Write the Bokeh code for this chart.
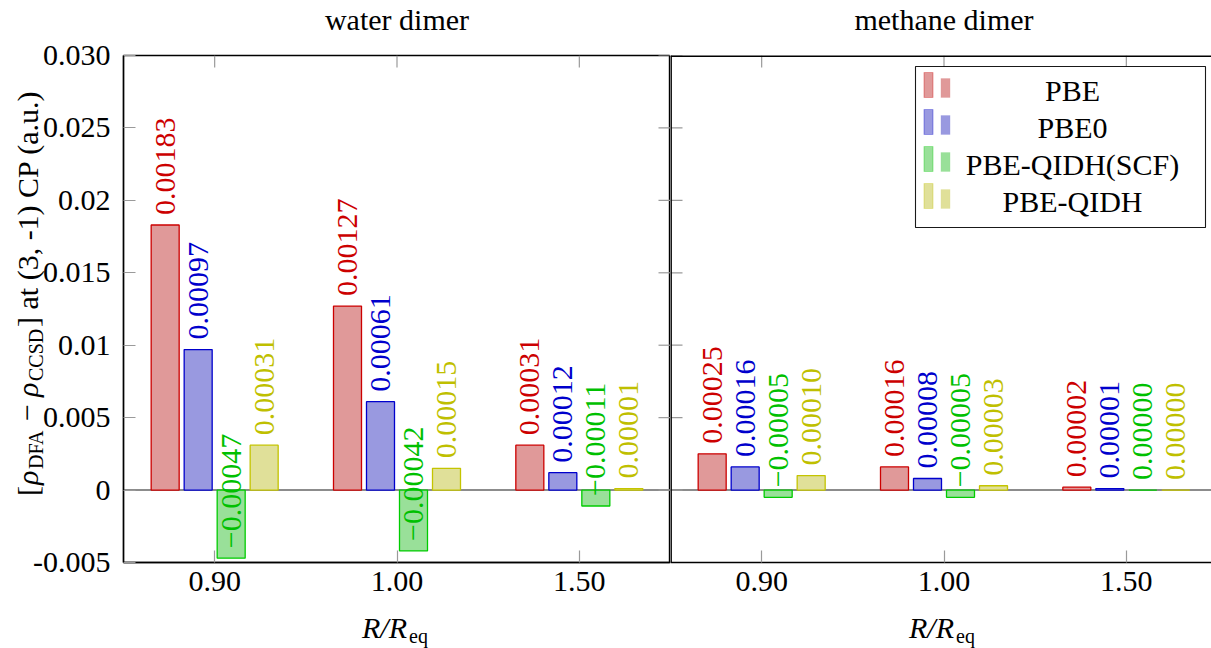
import math
from bokeh.plotting import figure
from bokeh.models import (Range1d, LinearAxis, FixedTicker, Span, Label,
                          BoxAnnotation, ColumnDataSource)
from bokeh.layouts import row, column
from bokeh.core.properties import value
from bokeh.embed import file_html
from bokeh.resources import INLINE

# ---------------- data ----------------
categories = ["0.90", "1.00", "1.50"]
methods = ["PBE", "PBE0", "PBE-QIDH(SCF)", "PBE-QIDH"]
panel_titles = ["water dimer", "methane dimer"]

water_pbe = [0.0183, 0.0127, 0.0031]
water_pbe0 = [0.0097, 0.0061, 0.0012]
water_scf = [-0.0047, -0.0042, -0.0011]
water_qidh = [0.0031, 0.0015, 0.0001]

methane_pbe = [0.0025, 0.0016, 0.0002]
methane_pbe0 = [0.0016, 0.0008, 0.0001]
methane_scf = [-0.0005, -0.0005, 0.0]
methane_qidh = [0.0010, 0.0003, 0.0]

water_pbe_labels = ["0.00183", "0.00127", "0.00031"]
water_pbe0_labels = ["0.00097", "0.00061", "0.00012"]
water_scf_labels = ["\u22120.00047", "\u22120.00042", "\u22120.00011"]
water_qidh_labels = ["0.00031", "0.00015", "0.00001"]

methane_pbe_labels = ["0.00025", "0.00016", "0.00002"]
methane_pbe0_labels = ["0.00016", "0.00008", "0.00001"]
methane_scf_labels = ["\u22120.00005", "\u22120.00005", "0.00000"]
methane_qidh_labels = ["0.00010", "0.00003", "0.00000"]

y_ticks = [-0.005, 0.0, 0.005, 0.01, 0.015, 0.02, 0.025, 0.03]
y_tick_labels = ["-0.005", "0", "0.005", "0.01", "0.015", "0.02", "0.025", "0.030"]

# ---------------- styles / layout (page pixels) ----------------
FONT = "Liberation Serif"
FS_PX, SUB_PX = 30, 20
FS, SUB_FS = f"{FS_PX}px", f"{SUB_PX}px"
MID = 0.3375            # middle of the font box above the baseline, in em
PAGE_W, PAGE_H = 1211, 648
TOP_STRIP = 36          # strip holding the panel titles
BOTTOM_STRIP = 40       # strip holding the x-axis titles
LEFT_STRIP = 46         # strip holding the y-axis title (overlapped by the left panel)
FRAME_LEFT, FRAME_TOP, FRAME_BOTTOM = 123, 55, 562
DIVIDER = 670
MAIN_H = PAGE_H - TOP_STRIP - BOTTOM_STRIP
Y0, Y1 = -0.005, 0.030
PPX = (DIVIDER - FRAME_LEFT) / 3.0
PPY = (FRAME_BOTTOM - FRAME_TOP) / (Y1 - Y0)
TICK_LEN = 12
TICK_COLOR = "#9a9a9a"
FRAME_W = 1.4

fills = ["#e09999", "#9999e0", "#99e099", "#e0e099"]
lines = ["#cc0000", "#0000cc", "#00cc00", "#c4c400"]
text_colors = ["#cc0000", "#0000cc", "#00c000", "#bfbf00"]
bar_offsets_px = [-49.5, -16.5, 16.5, 49.5]
BAR_W_PX = 28
LABEL_GAP_PX = 10

centers = [i + 0.5 for i in range(len(categories))]


def canvas_label(fig, x, y, text, px=FS_PX, style="normal", align="left", vertical=False):
    """Place text whose alphabetic baseline passes through (x, y) in canvas pixels."""
    if vertical:
        x, angle = x - MID * px, math.pi / 2
    else:
        y, angle = y - MID * px, 0.0
    fig.add_layout(Label(x=x, y=y, x_units="canvas", y_units="canvas", text=text,
                         angle=angle, text_font=FONT, text_font_size=f"{px}px",
                         text_font_style=style, text_align=align,
                         text_baseline="middle", text_color="black"))


def strip(width, height, **kw):
    s = figure(width=width, height=height, output_backend="svg", toolbar_location=None,
               tools="", x_range=Range1d(0, width), y_range=Range1d(height, 0),
               x_axis_location=None, y_axis_location=None,
               min_border=0, min_border_left=0, min_border_right=0,
               min_border_top=0, min_border_bottom=0,
               background_fill_color="white", border_fill_color="white", **kw)
    s.outline_line_color = None
    s.grid.visible = False
    return s


def style_axis(ax):
    ax.axis_line_color = "black"
    ax.axis_line_width = FRAME_W
    ax.major_tick_in = TICK_LEN
    ax.major_tick_out = 0
    ax.major_tick_line_color = TICK_COLOR
    ax.major_tick_line_width = 1.2
    ax.minor_tick_line_color = None
    ax.minor_tick_in = 0
    ax.minor_tick_out = 0
    ax.major_label_text_font = FONT
    ax.major_label_text_font_size = FS
    ax.major_label_text_color = "black"


def make_panel(width, border_left, x_end, is_left, series, labels):
    p = figure(width=width, height=MAIN_H, output_backend="svg", toolbar_location=None, tools="",
               x_range=Range1d(0, x_end), y_range=Range1d(Y0, Y1),
               x_axis_location=None, y_axis_location=None,
               min_border_left=border_left, min_border_right=0,
               min_border_top=FRAME_TOP - TOP_STRIP,
               min_border_bottom=TOP_STRIP + MAIN_H - FRAME_BOTTOM,
               background_fill_color="white", border_fill_color="white",
               border_fill_alpha=0.0)
    p.grid.visible = False

    bottom = LinearAxis(ticker=FixedTicker(ticks=centers),
                        major_label_overrides={c: lab for c, lab in zip(centers, categories)})
    style_axis(bottom)
    bottom.major_label_standoff = 9
    p.add_layout(bottom, "below")

    # ticks on the inner side of the top edge
    p.segment(x0=centers, x1=centers, y0=[Y1] * len(centers),
              y1=[Y1 - TICK_LEN / PPY] * len(centers), line_color=TICK_COLOR, line_width=1.2)

    if is_left:
        p.outline_line_color = "black"
        p.outline_line_width = FRAME_W
        left = LinearAxis(ticker=FixedTicker(ticks=y_ticks),
                          major_label_overrides=dict(zip(y_ticks, y_tick_labels)))
        style_axis(left)
        left.major_label_standoff = 13
        p.add_layout(left, "left")
        # mirrored y ticks at the divider
        p.segment(x0=[3.0 - TICK_LEN / PPX] * len(y_ticks), x1=[3.0] * len(y_ticks),
                  y0=y_ticks, y1=y_ticks, line_color=TICK_COLOR, line_width=1.2)
    else:
        p.outline_line_color = None
        p.add_layout(Span(location=Y1, dimension="width", line_color="black",
                          line_width=2 * FRAME_W))
        p.add_layout(Span(location=0, dimension="height", line_color="black",
                          line_width=2 * FRAME_W))
        p.segment(x0=[0.0] * len(y_ticks), x1=[TICK_LEN / PPX] * len(y_ticks),
                  y0=y_ticks, y1=y_ticks, line_color=TICK_COLOR, line_width=1.2)

    p.add_layout(Span(location=0, dimension="width", line_color="#666666",
                      line_width=1.6, level="underlay"))

    for i, (vals, labs) in enumerate(zip(series, labels)):
        xs = [c + bar_offsets_px[i] / PPX for c in centers]
        src = ColumnDataSource(dict(x=xs, top=vals, label=labs,
                                    ly=[v + LABEL_GAP_PX / PPY for v in vals]))
        p.vbar(x="x", top="top", bottom=0, width=BAR_W_PX / PPX, source=src,
               fill_color=fills[i], line_color=lines[i], line_width=1.3)
        p.text(x="x", y="ly", text="label", source=src, angle=math.pi / 2,
               text_align="left", text_baseline="middle",
               text_font=value(FONT), text_font_size=FS, text_color=text_colors[i])
    return p


left_fig = make_panel(DIVIDER, FRAME_LEFT, 3.0, True,
                      [water_pbe, water_pbe0, water_scf, water_qidh],
                      [water_pbe_labels, water_pbe0_labels, water_scf_labels, water_qidh_labels])
right_fig = make_panel(PAGE_W - DIVIDER, 0, (PAGE_W - DIVIDER) / PPX, False,
                       [methane_pbe, methane_pbe0, methane_scf, methane_qidh],
                       [methane_pbe_labels, methane_pbe0_labels, methane_scf_labels, methane_qidh_labels])

panel_centres = [FRAME_LEFT + 1.5 * PPX, DIVIDER + 1.5 * PPX]

# ---- top strip: panel titles ----
top_fig = strip(PAGE_W, TOP_STRIP)
for cx, title in zip(panel_centres, panel_titles):
    canvas_label(top_fig, cx, 29, title, align="center")

# ---- bottom strip: x-axis titles R/R_eq ----
bottom_fig = strip(PAGE_W, BOTTOM_STRIP)
RR_W = 45
base_y = PAGE_H - BOTTOM_STRIP
for cx in panel_centres:
    canvas_label(bottom_fig, cx - 35, 637 - base_y, "R/R", style="italic")
    canvas_label(bottom_fig, cx - 35 + RR_W + 2, 642 - base_y, "eq", px=SUB_PX)

# ---- left strip: y-axis title with subscripts (the left panel's transparent border overlaps it) ----
ylab_fig = strip(LEFT_STRIP, MAIN_H, margin=(0, -LEFT_STRIP, 0, 0))
MAIN_BASE, SUB_BASE = 37, 42
# (text, font px, style, baseline x, advance in px)
y_label_pieces = [
    ("[", FS_PX, "normal", MAIN_BASE, 11),
    ("\u03c1", FS_PX, "italic", MAIN_BASE, 16),
    ("DFA", SUB_PX, "normal", SUB_BASE, 41 + 7),
    ("\u2212", FS_PX, "normal", MAIN_BASE, 17 + 7),
    ("\u03c1", FS_PX, "italic", MAIN_BASE, 16),
    ("CCSD", SUB_PX, "normal", SUB_BASE, 54),
    ("] at (3, -1) CP (a.u.)", FS_PX, "normal", MAIN_BASE, 240),
]
Y_LABEL_CENTRE = 291
cursor = Y_LABEL_CENTRE + sum(pc[4] for pc in y_label_pieces) / 2.0
for txt, size, style, bx, adv in y_label_pieces:
    canvas_label(ylab_fig, bx, cursor - TOP_STRIP, txt, px=size, style=style, vertical=True)
    cursor -= adv

# ---- legend (in the right panel, canvas pixels of the right figure) ----
OX, OY = DIVIDER, TOP_STRIP
box_units = dict(left_units="canvas", right_units="canvas", top_units="canvas", bottom_units="canvas")
right_fig.add_layout(BoxAnnotation(left=915 - OX, right=1205 - OX, top=66 - OY, bottom=227 - OY,
                                   fill_color="white", fill_alpha=1.0, line_color="black",
                                   line_width=1.1, line_alpha=0.9, **box_units))
row_bottoms = [97, 134, 171, 208]
for i, name in enumerate(methods):
    rb = row_bottoms[i] - OY
    right_fig.add_layout(BoxAnnotation(left=923.5 - OX, right=932.5 - OX, top=rb - 25, bottom=rb,
                                       fill_color=fills[i], fill_alpha=1.0,
                                       line_color=lines[i], line_width=1.2, **box_units))
    right_fig.add_layout(BoxAnnotation(left=940.5 - OX, right=949.5 - OX, top=rb - 19, bottom=rb,
                                       fill_color=fills[i], fill_alpha=1.0,
                                       line_color=fills[i], line_width=1.2, **box_units))
    canvas_label(right_fig, 1072 - OX, rb + 3, name, align="center")

layout = column(top_fig, row(ylab_fig, left_fig, right_fig), bottom_fig)
open("out.html", "w").write(file_html(layout, INLINE))
